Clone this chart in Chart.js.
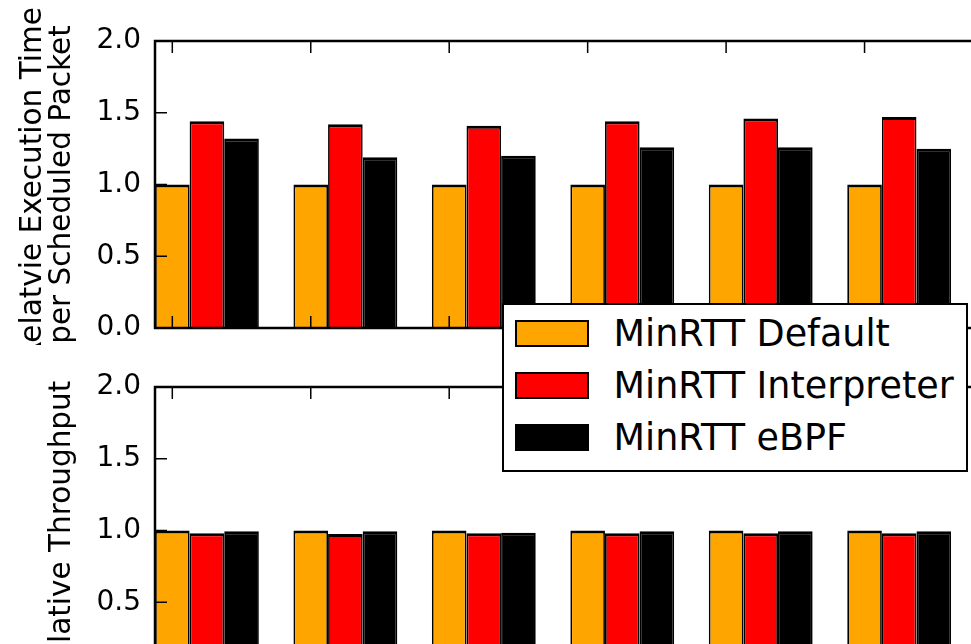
<!DOCTYPE html>
<html>
<head>
<meta charset="utf-8">
<script src="https://cdn.jsdelivr.net/npm/chart.js@4.4.1/dist/chart.umd.min.js"></script>
<style>
html, body { margin: 0; padding: 0; background: #fff; }
#wrap { position: relative; width: 971px; height: 644px; overflow: hidden; background: #fff; }
.box { position: absolute; left: 0; width: 1010px; height: 345px; }
.box canvas { width: 1010px !important; height: 345px !important; max-width: none !important; }
#b1 { top: 0; }
#b2 { top: 345px; }
#legend { position: absolute; left: 502px; top: 303px; width: 466px; height: 169px; box-sizing: border-box;
  border: 2.5px solid #000; background: #fff; z-index: 5; font-family: 'DejaVu Sans', sans-serif; color: #000; }
.row { position: absolute; left: 10.5px; height: 27px; display: flex; align-items: center; }
.sw { width: 74px; height: 27px; box-sizing: border-box; border: 2.5px solid #000; }
.lbl { margin-left: 25px; font-size: 36.5px; line-height: 27px; white-space: nowrap; }
</style>
</head>
<body>
<div id="wrap">
  <div class="box" id="b1"><canvas id="c1" width="1010" height="345"></canvas></div>
  <div class="box" id="b2"><canvas id="c2" width="1010" height="345"></canvas></div>
  <div id="legend"></div>
</div>
<script>
// ---- data ----
const groups = [0, 1, 2, 3, 4, 5];
const seriesNames = ['MinRTT Default', 'MinRTT Interpreter', 'MinRTT eBPF'];
const seriesColors = ['#FFA500', '#FF0000', '#000000'];

const execDefault     = [1.00, 1.00, 1.00, 1.00, 1.00, 1.00];
const execInterpreter = [1.44, 1.42, 1.41, 1.44, 1.46, 1.47];
const execEbpf        = [1.32, 1.19, 1.20, 1.26, 1.26, 1.25];

const thrDefault      = [1.00, 1.00, 1.00, 1.00, 1.00, 1.00];
const thrInterpreter  = [0.98, 0.975, 0.98, 0.98, 0.98, 0.98];
const thrEbpf         = [0.995, 0.995, 0.985, 0.995, 0.995, 0.995];

const yTicks = [0, 0.5, 1.0, 1.5, 2.0];
const yTickLabels = ['0.0', '0.5', '1.0', '1.5', '2.0'];
const topYLabel = ['Relatvie Execution Time', 'per Scheduled Packet'];
const bottomYLabel = ['Relative Throughput'];

// ---- helpers ----
const FONT = 'DejaVu Sans';

const framePlugin = {
  id: 'frame',
  afterDatasetsDraw(chart) {
    const { ctx, chartArea: a, scales } = chart;
    const tl = 12;
    ctx.save();
    ctx.strokeStyle = '#000';
    ctx.lineWidth = 1.5;
    ctx.beginPath();
    yTicks.forEach(v => {
      const y = scales.y.getPixelForValue(v);
      ctx.moveTo(a.left, y); ctx.lineTo(a.left + tl, y);
      ctx.moveTo(a.right, y); ctx.lineTo(a.right - tl, y);
    });
    chart.getDatasetMeta(0).data.forEach(el => {
      ctx.moveTo(el.x, a.bottom); ctx.lineTo(el.x, a.bottom - tl);
      ctx.moveTo(el.x, a.top); ctx.lineTo(el.x, a.top + tl);
    });
    ctx.stroke();
    ctx.lineWidth = 2.5;
    ctx.strokeRect(a.left, a.top, a.right - a.left, a.bottom - a.top);
    ctx.restore();
  }
};

function makeDatasets(seriesValues) {
  return seriesValues.map((vals, s) => ({
    label: seriesNames[s],
    data: groups.map((g, i) => ({ x: g, y: vals[i] })),
    backgroundColor: seriesColors[s],
    borderColor: '#000',
    borderWidth: { top: 3, left: 1.75, right: 1.75, bottom: 0 },
    borderSkipped: 'start',
    categoryPercentage: 0.75,
    barPercentage: 1.0
  }));
}

function makeChart(canvasId, seriesValues, yLabel, padTop, xAxisHeight, titlePadTop) {
  return new Chart(document.getElementById(canvasId), {
    type: 'bar',
    data: { datasets: makeDatasets(seriesValues) },
    options: {
      responsive: false,
      maintainAspectRatio: false,
      animation: false,
      devicePixelRatio: 1,
      layout: { padding: { top: padTop, right: 7, left: 0, bottom: 0 } },
      plugins: { legend: { display: false }, tooltip: { enabled: false } },
      scales: {
        x: {
          type: 'linear',
          offset: false,
          min: -0.375,
          max: 5.75,
          grid: { display: false, drawTicks: false, offset: false },
          border: { display: false },
          ticks: { display: false },
          afterBuildTicks: s => { s.ticks = groups.map(v => ({ value: v })); },
          afterFit: s => { s.height = xAxisHeight; }
        },
        y: {
          min: 0,
          max: 2,
          grid: { display: false, drawTicks: false },
          border: { display: false },
          afterBuildTicks: s => { s.ticks = yTicks.map(v => ({ value: v })); },
          ticks: {
            padding: 14,
            color: '#000',
            font: { family: FONT, size: 28, lineHeight: 0.05 },
            callback: (v, i) => yTickLabels[i]
          },
          title: {
            display: true,
            text: yLabel,
            color: '#000',
            font: { family: FONT, size: 29.5, lineHeight: 1.0 },
            padding: { top: titlePadTop, bottom: 0 }
          },
          afterFit: s => { s.width = 155; }
        }
      }
    },
    plugins: [framePlugin]
  });
}

makeChart('c1', [execDefault, execInterpreter, execEbpf], topYLabel, 41, 17, 18.25);
makeChart('c2', [thrDefault, thrInterpreter, thrEbpf], bottomYLabel, 42, 16, 47.75);

// ---- legend (HTML, real text) ----
const legend = document.getElementById('legend');
const rowTops = [14.5, 66.5, 118.5];
seriesNames.forEach((name, i) => {
  const row = document.createElement('div');
  row.className = 'row';
  row.style.top = rowTops[i] + 'px';
  const sw = document.createElement('div');
  sw.className = 'sw';
  sw.style.background = seriesColors[i];
  const lbl = document.createElement('span');
  lbl.className = 'lbl';
  lbl.textContent = name;
  row.appendChild(sw);
  row.appendChild(lbl);
  legend.appendChild(row);
});
</script>
</body>
</html>
